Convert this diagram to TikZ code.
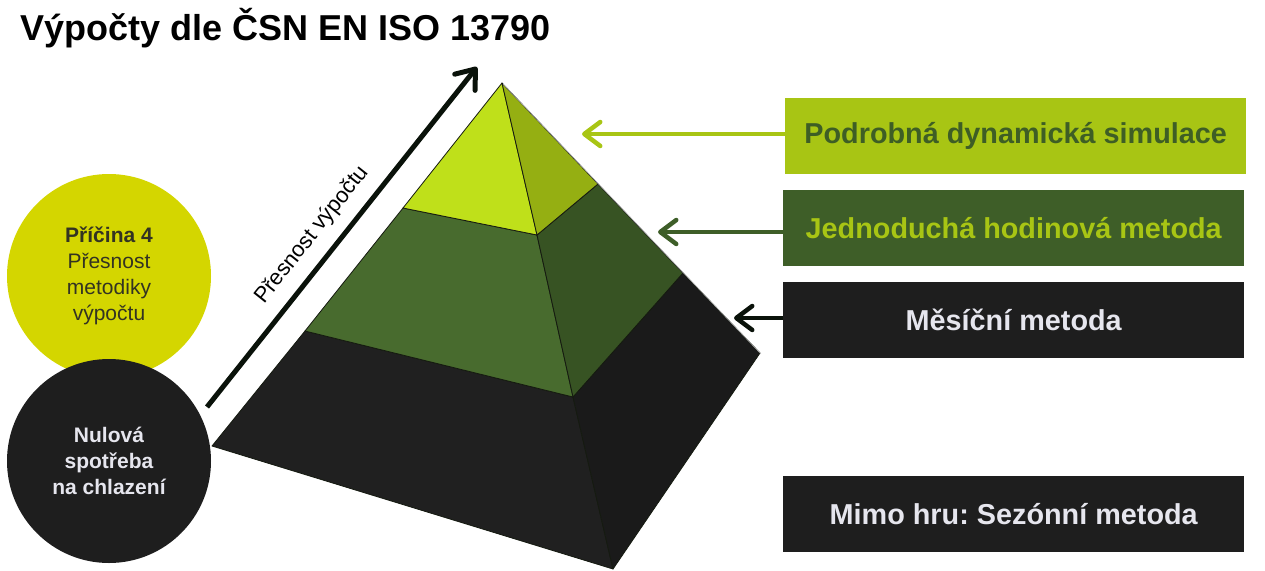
\documentclass[tikz,border=0pt]{standalone}
\usepackage{fontspec}
\setmainfont{Liberation Sans}
\usetikzlibrary{arrows.meta}
\definecolor{topL}{HTML}{BFE01A}
\definecolor{topR}{HTML}{95AF12}
\definecolor{midL}{HTML}{486B2E}
\definecolor{midR}{HTML}{375323}
\definecolor{botL}{HTML}{202020}
\definecolor{botR}{HTML}{1A1A1A}
\definecolor{boxLime}{HTML}{A8C514}
\definecolor{boxGreen}{HTML}{3E5E28}
\definecolor{boxDark}{HTML}{1E1E1E}
\definecolor{txtGreen}{HTML}{3E5E25}
\definecolor{txtLight}{HTML}{E6E6EE}
\definecolor{circYellow}{HTML}{D4D600}
\definecolor{circText}{HTML}{333322}
\definecolor{arrBlack}{HTML}{0A120A}
\definecolor{edgeC}{HTML}{151A10}
\begin{document}
\frenchspacing
\begin{tikzpicture}[x=1pt,y=-1pt,
  face/.style={draw=edgeC, line width=0.8pt, line join=round},
  methodbox/.style={rectangle, inner sep=0pt, minimum width=461pt, minimum height=76pt, anchor=north west,
    font=\fontsize{28.8}{34}\selectfont\bfseries},
  circnode/.style={circle, inner sep=0pt, minimum size=204pt, align=center,
    font=\fontsize{21}{26}\selectfont},
  pointer/.style={line width=4.5pt, -{Straight Barb[length=16pt,width=24pt,round]}},
]
\useasboundingbox (0,0) rectangle (1265,570);

% title
\node[anchor=base west, inner sep=0pt, font=\fontsize{36}{44}\selectfont\bfseries] (title) at (20,40) {Výpočty dle ČSN EN ISO 13790};

% pyramid points
\coordinate (A) at (502,83);
\coordinate (T1) at (403,208);
\coordinate (T2) at (537,235);
\coordinate (T3) at (598,184);
\coordinate (M1) at (305,331);
\coordinate (M2) at (573,397);
\coordinate (M3) at (683,273);
\coordinate (B1) at (212,446);
\coordinate (B2) at (613,569);
\coordinate (B3) at (760,353);

\fill[botL, face] (M1) -- (B1) -- (B2) -- (M2) -- cycle;
\fill[botR, face] (M2) -- (B2) -- (B3) -- (M3) -- cycle;
\fill[midL, face] (T1) -- (M1) -- (M2) -- (T2) -- cycle;
\fill[midR, face] (T2) -- (M2) -- (M3) -- (T3) -- cycle;
\fill[topL, face] (A) -- (T1) -- (T2) -- cycle;
\fill[topR, face] (A) -- (T2) -- (T3) -- cycle;
\draw[gray!60, line width=0.6pt] ([xshift=1pt,yshift=-1pt]A) -- ([xshift=1pt,yshift=-1pt]B3);

% circles
\node[circnode, fill=circYellow, text=circText] (c1) at (109,276) {\textbf{Příčina 4}\\Přesnost\\metodiky\\výpočtu};
\node[circnode, fill=boxDark, text=txtLight, font=\fontsize{21}{26}\selectfont\bfseries] (c2) at (109,461) {Nulová\\spotřeba\\na chlazení};

% big arrow
\coordinate (a1) at (207,407);
\coordinate (a2) at (477,67);
\draw[arrBlack, line width=5pt, -{Straight Barb[length=17pt,width=26pt,round]}] (a1) -- (a2);
\node[rotate=51.5, font=\fontsize{22}{26}\selectfont, inner sep=0pt] (acc) at (312,235) {Přesnost výpočtu};

% boxes
\node[methodbox, fill=boxLime, text=txtGreen] (b1) at (785,98) {Podrobná dynamická simulace};
\node[methodbox, fill=boxGreen, text=boxLime] (b2) at (783,190) {Jednoduchá hodinová metoda};
\node[methodbox, fill=boxDark, text=txtLight] (b3) at (783,282) {Měsíční metoda};
\node[methodbox, fill=boxDark, text=txtLight] (b4) at (783,476) {Mimo hru: Sezónní metoda};

% pointer tips
\coordinate (p1) at (582,134);
\coordinate (p2) at (658,232);
\coordinate (p3) at (734,318);
\draw[pointer, boxLime] (b1.west |- p1) -- (p1);
\draw[pointer, boxGreen] (b2.west |- p2) -- (p2);
\draw[pointer, arrBlack] (b3.west |- p3) -- (p3);
\end{tikzpicture}
\end{document}
